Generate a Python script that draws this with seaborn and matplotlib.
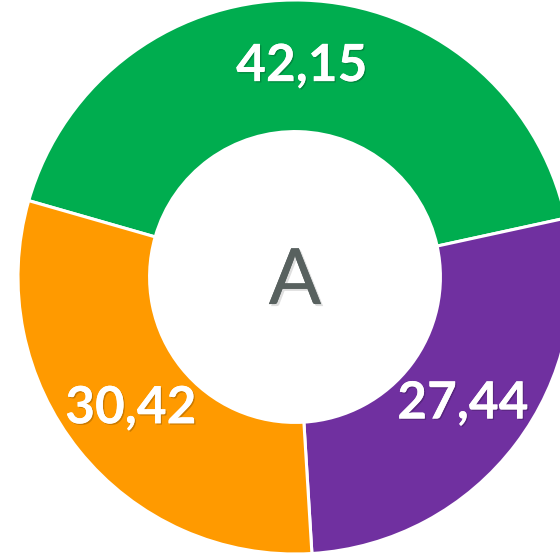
import matplotlib
matplotlib.use('Agg')
import matplotlib.pyplot as plt
import matplotlib.patheffects as pe
import seaborn as sns

# Data
categories = ['Green', 'Purple', 'Orange']
values = [42.15, 27.44, 30.42]
colors = ['#00AD4F', '#7030A0', '#FF9A00']
center_label = 'A'

sns.set_theme(style='white')
plt.rcParams['font.family'] = ['Lato', 'DejaVu Sans']

palette = sns.color_palette(colors)

fig = plt.figure(figsize=(5.6, 5.58), dpi=100)
ax = fig.add_axes([0, 0, 1, 1])

# pixel geometry of the reference: center (295, 277), outer radius 277 px
cx, cy, r_px = 295, 277, 277
W, H = 560, 558

vals_iter = iter(values)
wedges, texts, autotexts = ax.pie(
    values,
    colors=palette,
    startangle=164,
    counterclock=False,
    radius=1.0,
    wedgeprops=dict(width=0.475, edgecolor='white', linewidth=2.2),
    autopct=lambda p: f'{next(vals_iter):.2f}'.replace('.', ','),
    pctdistance=0.76,
)

shadow = [pe.withSimplePatchShadow(offset=(1, -1), shadow_rgbFace='black', alpha=0.2),
          pe.Normal()]
for t in autotexts:
    t.set_color('white')
    t.set_fontsize(37)
    t.set_fontweight('bold')
    t.set_path_effects(shadow)

ax.text(0, -0.02, center_label, ha='center', va='center', fontsize=56,
        color='#58615F',
        path_effects=[pe.withSimplePatchShadow(offset=(1.5, -1.5), shadow_rgbFace='gray', alpha=0.25),
                      pe.Normal()])

ax.set_xlim(-cx / r_px, (W - cx) / r_px)
ax.set_ylim(-(H - cy) / r_px, cy / r_px)
ax.set_aspect('equal')
ax.axis('off')

plt.savefig('out.png', dpi=100)
plt.close()
